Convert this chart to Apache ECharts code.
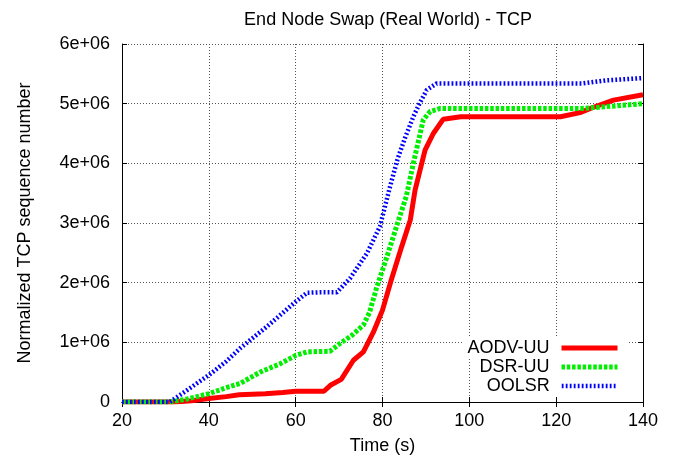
<!DOCTYPE html>
<html>
<head>
<meta charset="utf-8">
<script src="https://cdn.jsdelivr.net/npm/echarts@6/dist/echarts.min.js"></script>
<style>html,body{margin:0;padding:0;background:#fff}#c{width:689px;height:461px}</style>
</head>
<body>
<div id="c"></div>
<script>
const titleText = 'End Node Swap (Real World) - TCP';
const xName = 'Time (s)';
const yName = 'Normalized TCP sequence number';
const xTicks = [20, 40, 60, 80, 100, 120, 140];
const yTicks = [0, 1e6, 2e6, 3e6, 4e6, 5e6, 6e6];
const yTickLabels = ['0', '1e+06', '2e+06', '3e+06', '4e+06', '5e+06', '6e+06'];
const seriesNames = ['AODV-UU', 'DSR-UU', 'OOLSR'];

const aodvTime = [20, 32, 36, 40, 44, 47, 50, 53, 57, 60, 63, 66.5, 68, 70.5, 73.3, 75.6, 77.9, 80, 82, 84.4, 86.4, 87.5, 89.8, 91.7, 94, 98, 110, 121, 125.5, 128.6, 133.2, 140];
const aodvSeq = [0, 0, 0.02e6, 0.06e6, 0.09e6, 0.12e6, 0.13e6, 0.14e6, 0.16e6, 0.18e6, 0.18e6, 0.18e6, 0.28e6, 0.38e6, 0.7e6, 0.84e6, 1.17e6, 1.54e6, 2.04e6, 2.6e6, 3.05e6, 3.55e6, 4.22e6, 4.5e6, 4.74e6, 4.78e6, 4.78e6, 4.78e6, 4.85e6, 4.94e6, 5.06e6, 5.15e6];

const dsrTime = [20, 31, 35, 40, 44, 47.2, 51.8, 56.4, 60, 62.6, 67.9, 70.2, 73, 75.6, 77, 78.7, 81, 83.7, 85.5, 87.1, 89.4, 91, 93.3, 110, 126, 129.8, 140];
const dsrSeq = [0, 0, 0.05e6, 0.14e6, 0.24e6, 0.31e6, 0.5e6, 0.64e6, 0.78e6, 0.84e6, 0.85e6, 0.98e6, 1.12e6, 1.29e6, 1.5e6, 1.93e6, 2.43e6, 3.05e6, 3.45e6, 4.0e6, 4.73e6, 4.87e6, 4.92e6, 4.92e6, 4.92e6, 4.94e6, 5.0e6];

const oolsrTime = [20, 31, 35, 40, 44, 47.2, 53.3, 60, 62.6, 66, 69.5, 72.5, 76.4, 79.4, 81.7, 83.5, 85.3, 87.1, 88.5, 90.2, 92.5, 110, 126.2, 131.5, 140];
const oolsrSeq = [0, 0, 0.2e6, 0.45e6, 0.68e6, 0.9e6, 1.26e6, 1.68e6, 1.83e6, 1.84e6, 1.84e6, 2.07e6, 2.49e6, 2.94e6, 3.6e6, 4.08e6, 4.45e6, 4.78e6, 5.0e6, 5.23e6, 5.34e6, 5.34e6, 5.34e6, 5.39e6, 5.43e6];

function pairs(xs, ys) { return xs.map((x, i) => [x, ys[i]]); }

const FONT = 'Liberation Sans';
const chart = echarts.init(document.getElementById('c'), null, {renderer: 'canvas'});

const gridLine = {show: true, lineStyle: {color: '#555', type: [1, 2], width: 1}};
const axisLine = {show: true, lineStyle: {color: '#000', width: 1}};
const tick = {show: true, inside: true, length: 5, lineStyle: {color: '#000'}};

const styles = [
  {color: '#ff0000', width: 5, type: 'solid'},
  {color: '#00ee00', width: 5, type: [3.5, 1.8]},
  {color: '#0000ff', width: 4.5, type: [1.8, 2.2]}
];

function legendFor(i, top) {
  return {
    data: [seriesNames[i]], right: 60, top: top, orient: 'vertical', align: 'right',
    itemWidth: 56, itemHeight: 14, padding: [1, 9, 1, 4],
    backgroundColor: '#fff',
    itemStyle: {opacity: 0},
    lineStyle: {color: styles[i].color, width: styles[i].width, type: styles[i].type},
    textStyle: {fontFamily: FONT, fontSize: 18, color: '#000', padding: [0, 7, 0, 0]},
    selectedMode: false
  };
}

chart.setOption({
  animation: false,
  backgroundColor: '#fff',
  title: {text: titleText, left: 383, top: 6, textAlign: 'center',
    textStyle: {fontFamily: FONT, fontSize: 18, fontWeight: 'normal', color: '#000'}},
  grid: {left: 122, right: 46, top: 44, bottom: 59},
  legend: [legendFor(0, 338), legendFor(1, 357), legendFor(2, 376)],
  xAxis: [{
    type: 'value', min: 20, max: 140, interval: 20,
    name: xName, nameLocation: 'middle', nameGap: 35,
    nameTextStyle: {fontFamily: FONT, fontSize: 18, color: '#000'},
    axisLine: axisLine, axisTick: tick, splitLine: gridLine,
    axisLabel: {fontFamily: FONT, fontSize: 18, color: '#000', margin: 10,
      formatter: v => xTicks.includes(v) ? String(v) : ''}
  }, {
    type: 'value', position: 'top', min: 20, max: 140, interval: 20,
    axisLine: axisLine, axisTick: tick, splitLine: {show: false}, axisLabel: {show: false}
  }],
  yAxis: [{
    type: 'value', min: 0, max: 6e6, interval: 1e6,
    name: yName, nameLocation: 'middle', nameGap: 88,
    nameTextStyle: {fontFamily: FONT, fontSize: 18, color: '#000'},
    axisLine: axisLine, axisTick: tick, splitLine: gridLine,
    axisLabel: {fontFamily: FONT, fontSize: 18, color: '#000', margin: 12,
      formatter: v => { const i = yTicks.indexOf(v); return i >= 0 ? yTickLabels[i] : ''; }}
  }, {
    type: 'value', position: 'right', min: 0, max: 6e6, interval: 1e6,
    axisLine: axisLine, axisTick: tick, splitLine: {show: false}, axisLabel: {show: false}
  }],
  series: [{
    name: seriesNames[0], type: 'line', data: pairs(aodvTime, aodvSeq),
    showSymbol: false, symbol: 'none', color: styles[0].color,
    lineStyle: styles[0]
  }, {
    name: seriesNames[1], type: 'line', data: pairs(dsrTime, dsrSeq),
    showSymbol: false, symbol: 'none', color: styles[1].color,
    lineStyle: styles[1]
  }, {
    name: seriesNames[2], type: 'line', data: pairs(oolsrTime, oolsrSeq),
    showSymbol: false, symbol: 'none', color: styles[2].color,
    lineStyle: styles[2]
  }]
});
</script>
</body>
</html>
